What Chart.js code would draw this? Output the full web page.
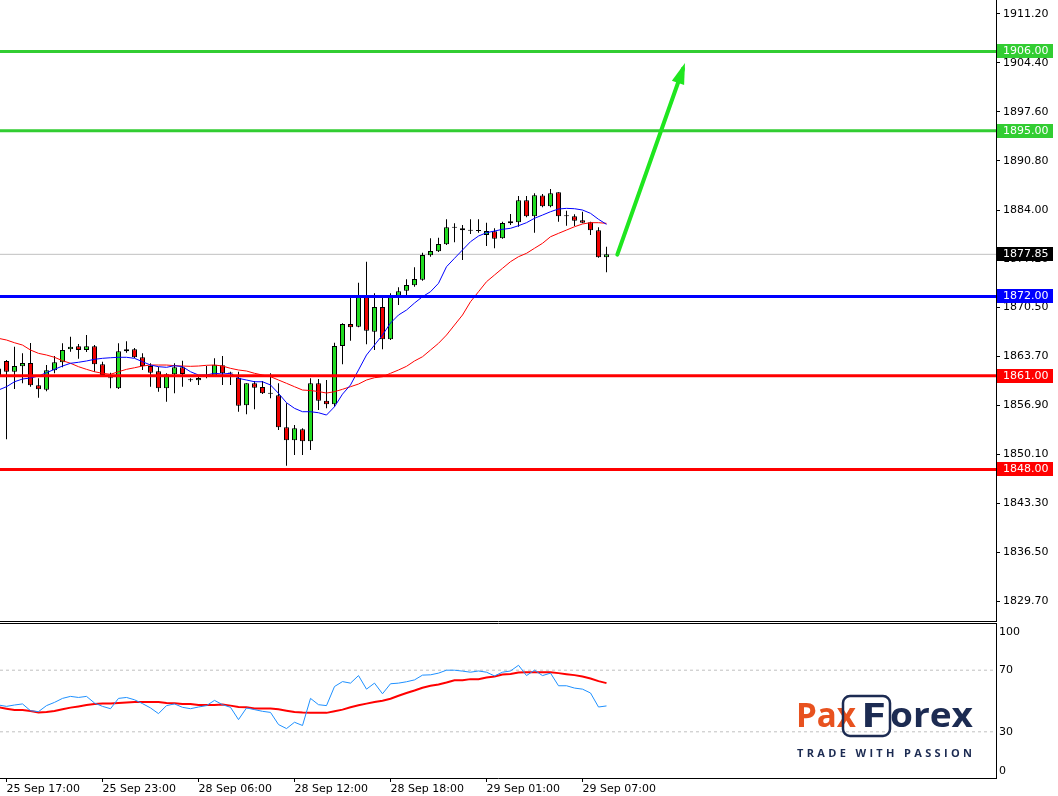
<!DOCTYPE html>
<html>
<head>
<meta charset="utf-8">
<title>Gold M30</title>
<script src="https://cdn.jsdelivr.net/npm/chart.js@4/dist/chart.umd.min.js"></script>
<style>
  html, body { margin: 0; background: #fff; }
  #wrap { position: relative; width: 1058px; height: 796px; overflow: hidden; }
  canvas { position: absolute; left: 0; }
  #main { top: 0; }
  #osc { top: 622px; }
</style>
</head>
<body>
<div id="wrap">
  <canvas id="main" width="1058" height="622"></canvas>
  <canvas id="osc" width="1058" height="174"></canvas>
</div>
<script>
// M30 bars. x is the bar number: 0 = 25 Sep 17:00, bar -1 is cut by the left edge.
const firstBar = -1;
const opens = [1861.00, 1863.05, 1861.56, 1862.31, 1862.77, 1859.67, 1859.06, 1861.75, 1862.87, 1864.67,
  1865.08, 1864.57, 1865.08, 1862.59, 1860.70, 1859.26, 1864.39, 1864.67, 1863.56, 1862.35,
  1861.62, 1859.26, 1861.20, 1862.17, 1860.37, 1860.37, 1860.85, 1860.87, 1862.45, 1861.34,
  1860.73, 1856.90, 1859.95, 1859.44, 1858.56, 1858.29, 1853.85, 1852.04, 1853.57, 1851.90,
  1859.95, 1857.53, 1857.04, 1865.13, 1868.18, 1867.80, 1871.97, 1867.11, 1870.54, 1866.06,
  1871.97, 1872.80, 1873.55, 1874.33, 1877.72, 1878.27, 1879.24, 1881.60, 1881.46, 1881.18,
  1881.13, 1880.53, 1881.04, 1880.07, 1882.15, 1882.29, 1885.35, 1883.13, 1886.00, 1884.52,
  1886.46, 1883.17, 1883.13, 1882.57, 1882.29, 1881.18, 1877.43];
const highs = [1863.18, 1863.20, 1865.03, 1864.11, 1865.54, 1860.64, 1862.49, 1863.74, 1865.50, 1866.42,
  1865.40, 1866.65, 1865.26, 1862.95, 1861.42, 1865.50, 1865.78, 1864.85, 1864.11, 1862.73,
  1862.26, 1861.34, 1862.73, 1863.09, 1860.64, 1861.10, 1862.35, 1863.42, 1863.74, 1861.56,
  1861.56, 1859.95, 1860.27, 1860.27, 1861.34, 1859.95, 1857.18, 1854.17, 1853.71, 1860.64,
  1860.55, 1860.40, 1865.59, 1868.28, 1872.20, 1873.91, 1876.83, 1872.44, 1872.07, 1872.44,
  1873.27, 1874.38, 1876.05, 1878.08, 1880.07, 1880.16, 1882.71, 1882.15, 1881.92, 1882.71,
  1882.71, 1882.24, 1881.46, 1882.38, 1883.45, 1885.95, 1885.95, 1886.32, 1886.22, 1886.92,
  1886.46, 1883.90, 1883.40, 1883.76, 1882.38, 1881.60, 1878.91];
const lows = [1857.40, 1852.18, 1859.16, 1859.95, 1859.48, 1857.95, 1858.84, 1861.34, 1862.17, 1864.33,
  1863.36, 1864.29, 1861.56, 1860.87, 1859.26, 1859.16, 1864.20, 1863.46, 1861.80, 1859.48,
  1858.79, 1857.40, 1858.56, 1859.48, 1860.17, 1859.72, 1860.64, 1860.87, 1859.72, 1859.72,
  1856.01, 1855.65, 1856.34, 1858.46, 1857.87, 1853.47, 1848.52, 1850.00, 1850.00, 1850.70,
  1856.25, 1856.48, 1856.70, 1862.59, 1865.86, 1867.72, 1865.36, 1864.57, 1864.67, 1865.96,
  1870.82, 1872.20, 1873.35, 1874.19, 1877.52, 1878.17, 1879.14, 1879.52, 1877.06, 1880.67,
  1880.85, 1879.00, 1878.69, 1880.02, 1881.92, 1881.68, 1882.99, 1880.85, 1884.38, 1884.38,
  1882.38, 1881.82, 1881.78, 1882.15, 1880.53, 1877.38, 1875.35];
const closes = [1862.00, 1861.56, 1862.35, 1862.77, 1859.67, 1859.12, 1861.75, 1862.87, 1864.57, 1865.03,
  1864.57, 1865.08, 1862.59, 1861.10, 1860.64, 1864.39, 1864.67, 1863.56, 1862.35, 1861.42,
  1859.26, 1861.20, 1862.17, 1861.24, 1860.40, 1860.69, 1860.90, 1862.53, 1861.34, 1861.30,
  1856.84, 1859.95, 1859.34, 1858.56, 1858.50, 1853.85, 1852.04, 1853.71, 1851.90, 1859.95,
  1857.53, 1857.04, 1865.13, 1868.18, 1867.72, 1871.97, 1867.25, 1870.54, 1866.06, 1871.97,
  1872.72, 1873.59, 1874.42, 1877.76, 1878.31, 1879.28, 1881.60, 1881.55, 1881.18, 1881.13,
  1881.10, 1881.08, 1880.02, 1882.20, 1882.43, 1885.35, 1883.13, 1886.04, 1884.52, 1886.32,
  1883.13, 1883.15, 1882.52, 1882.24, 1881.18, 1877.43, 1877.85];

// the two moving averages on the price pane (blue fast, red slow)
const maFast = [1859.02, 1859.48, 1860.17, 1860.55, 1860.69, 1860.96, 1861.42, 1861.89, 1862.35, 1862.73,
  1862.87, 1863.05, 1863.28, 1863.42, 1863.50, 1863.56, 1863.56, 1863.42, 1862.95, 1862.49,
  1862.26, 1862.17, 1862.40, 1862.26, 1861.56, 1861.10, 1861.10, 1861.34, 1861.24, 1861.34,
  1860.64, 1860.41, 1860.17, 1860.17, 1859.72, 1858.56, 1857.26, 1856.48, 1856.01, 1856.01,
  1855.87, 1855.55, 1856.70, 1858.45, 1859.72, 1861.80, 1863.88, 1865.26, 1866.65, 1868.32,
  1869.43, 1870.12, 1871.09, 1871.97, 1872.66, 1873.83, 1876.13, 1877.30, 1878.45, 1879.60,
  1880.39, 1880.85, 1881.08, 1881.32, 1881.46, 1881.82, 1882.24, 1882.85, 1883.30, 1883.76,
  1884.14, 1884.23, 1884.18, 1884.00, 1883.54, 1882.71, 1882.01];
const maSlow = [1866.19, 1865.96, 1865.58, 1865.26, 1864.57, 1864.11, 1863.88, 1863.56, 1863.09, 1862.73,
  1862.26, 1861.89, 1861.56, 1861.34, 1861.20, 1861.56, 1861.89, 1862.11, 1862.35, 1862.49,
  1862.49, 1862.49, 1862.40, 1862.35, 1862.31, 1862.35, 1862.45, 1862.49, 1862.35, 1862.03,
  1861.80, 1861.66, 1861.34, 1861.10, 1860.87, 1860.41, 1859.95, 1859.48, 1859.02, 1858.95,
  1858.81, 1858.60, 1858.79, 1859.12, 1859.48, 1859.85, 1860.41, 1860.73, 1860.87, 1861.34,
  1861.80, 1862.31, 1863.05, 1863.64, 1864.57, 1865.50, 1866.65, 1868.04, 1869.43, 1871.27,
  1872.66, 1874.05, 1874.98, 1875.91, 1876.83, 1877.52, 1877.99, 1878.69, 1879.38, 1880.29,
  1880.76, 1881.22, 1881.68, 1882.06, 1882.24, 1882.24, 1882.15];

// oscillator pane (0..100): blue main line and red signal line
const oscMain = [47.4, 46.5, 47.4, 48.1, 43.7, 43.1, 47.0, 49.1, 51.7, 53.0,
  52.3, 53.0, 48.7, 46.5, 45.0, 51.7, 52.3, 50.8, 48.3, 45.5,
  41.8, 47.0, 48.1, 45.9, 45.0, 46.1, 47.0, 50.4, 47.6, 45.9,
  37.9, 45.5, 44.4, 43.3, 42.6, 34.7, 32.1, 36.2, 34.1, 51.7,
  47.6, 47.0, 59.4, 62.6, 61.6, 66.5, 57.7, 61.6, 54.7, 61.2,
  61.6, 62.5, 63.7, 66.8, 67.0, 68.1, 70.0, 70.0, 69.4, 68.7,
  69.5, 68.7, 66.3, 68.7, 69.5, 73.2, 66.5, 70.0, 66.5, 68.1,
  59.9, 59.9, 58.4, 57.7, 55.2, 46.1, 46.8];
const oscSignal = [45.9, 45.0, 44.2, 44.2, 43.5, 42.5, 42.9, 43.5, 44.6, 45.7,
  46.5, 47.4, 48.1, 48.3, 48.3, 48.7, 49.1, 49.4, 49.4, 49.4,
  49.4, 48.7, 48.5, 48.1, 48.1, 47.4, 47.4, 47.4, 47.8, 47.0,
  46.1, 45.9, 45.2, 45.2, 45.2, 44.6, 43.7, 42.9, 42.5, 42.3,
  42.3, 42.3, 43.3, 44.4, 45.9, 47.2, 48.3, 49.4, 50.2, 51.5,
  53.4, 55.2, 56.8, 58.6, 59.9, 60.7, 62.0, 63.5, 63.5, 64.2,
  64.2, 65.2, 65.9, 67.2, 67.6, 68.5, 68.7, 68.7, 68.7, 68.7,
  68.1, 67.4, 66.8, 65.9, 64.6, 62.9, 61.6];

const priceTicks = [1911.20, 1904.40, 1897.60, 1890.80, 1884.00, 1877.20, 1870.50,
  1863.70, 1856.90, 1850.10, 1843.30, 1836.50, 1829.70];
const timeTickBars = [0, 12, 24, 36, 48, 60, 72];
const timeTickLabels = ['25 Sep 17:00', '25 Sep 23:00', '28 Sep 06:00', '28 Sep 12:00',
  '28 Sep 18:00', '29 Sep 01:00', '29 Sep 07:00'];
const levelPrices = [1906, 1895, 1872, 1861, 1848];
const lastPrice = 1877.85;
const arrowFrom = [76.35, 1877.8]; // [bar, price]
const arrowTo = [84.56, 1903.6];
const oscTicks = [100, 70, 30, 0];
const oscLevels = [70, 30];

// visible window: 8 px per bar, bar 0 sits at x = 6.5
const X_MIN = -0.8125, X_MAX = 123.6875;
const PRICE_MIN = 1826.97, PRICE_MAX = 1913.14;

const levelColors = ['#32cd32', '#32cd32', '#0000ff', '#ff0000', '#ff0000'];
const UP = '#22dd22', DOWN = '#f00000', ARROW = '#1fe61f';
const NAVY = '#1c2b52', ORANGE = '#e8521f';
const AXIS_FONT = '11px "DejaVu Sans"';

Chart.defaults.font.family = '"DejaVu Sans", sans-serif';
Chart.defaults.font.size = 11;
Chart.defaults.color = '#000';

const bars = opens.map((_, k) => firstBar + k);
const series = (values) => values.map((v, k) => ({ x: bars[k], y: v }));
const hline = (y) => [{ x: X_MIN, y }, { x: X_MAX, y }];
const flat = { pointRadius: 0, tension: 0, fill: false };

// Axes keep their full box: no extra room for half-labels at the ends.
const noEdgePadding = (s) => {
  s.paddingTop = 0;
  s.paddingBottom = 0;
  s.paddingLeft = 0;
  s.paddingRight = 0;
};

// Extra drawing on the price pane: arrowhead, bottom frame line, price tags on the axis.
const priceDecor = {
  id: 'priceDecor',
  afterDatasetsDraw(chart) {
    const { ctx, scales: { x, y } } = chart;
    const x0 = x.getPixelForValue(arrowFrom[0]), y0 = y.getPixelForValue(arrowFrom[1]);
    const x1 = x.getPixelForValue(arrowTo[0]), y1 = y.getPixelForValue(arrowTo[1]);
    const len = Math.hypot(x1 - x0, y1 - y0);
    const ux = (x1 - x0) / len, uy = (y1 - y0) / len;
    const tipX = x1 + ux * 6, tipY = y1 + uy * 6;
    const bx = tipX - ux * 21, by = tipY - uy * 21;
    ctx.save();
    ctx.fillStyle = ARROW;
    ctx.beginPath();
    ctx.moveTo(tipX, tipY);
    ctx.lineTo(bx - uy * 6.5, by + ux * 6.5);
    ctx.lineTo(bx + uy * 6.5, by - ux * 6.5);
    ctx.closePath();
    ctx.fill();
    ctx.restore();
  },
  afterDraw(chart) {
    const { ctx, chartArea: a, scales: { y } } = chart;
    ctx.save();
    ctx.strokeStyle = '#000';
    ctx.lineWidth = 1;
    ctx.beginPath();
    ctx.moveTo(0, a.bottom + 0.5);
    ctx.lineTo(a.right + 1, a.bottom + 0.5);
    ctx.stroke();
    ctx.font = AXIS_FONT;
    ctx.textAlign = 'left';
    ctx.textBaseline = 'middle';
    const tag = (price, bg) => {
      const py = Math.round(y.getPixelForValue(price));
      ctx.fillStyle = bg;
      ctx.fillRect(a.right + 1, py - 7, 56, 14);
      ctx.fillStyle = '#fff';
      ctx.fillText(price.toFixed(2), a.right + 7, py + 0.5);
    };
    levelPrices.forEach((p, k) => tag(p, levelColors[k]));
    tag(lastPrice, '#000');
    ctx.restore();
  },
};

new Chart(document.getElementById('main'), {
  type: 'bar',
  data: {
    datasets: [
      { type: 'line', data: [{ x: arrowFrom[0], y: arrowFrom[1] }, { x: arrowTo[0], y: arrowTo[1] }],
        borderColor: ARROW, borderWidth: 4, borderCapStyle: 'round', ...flat, order: 0 },
      ...levelPrices.map((p, k) => ({ type: 'line', data: hline(p), borderColor: levelColors[k],
        borderWidth: 3, ...flat, order: 1 })),
      { type: 'line', data: series(maFast), borderColor: '#0000ff', borderWidth: 1, ...flat, order: 2 },
      { type: 'line', data: series(maSlow), borderColor: '#ff0000', borderWidth: 1, ...flat, order: 3 },
      // bodies and wicks share one stack name so they sit on the same x
      { type: 'bar', data: bars.map((x, k) => ({ x, y: [opens[k], closes[k]] })),
        backgroundColor: bars.map((_, k) => (closes[k] >= opens[k] ? UP : DOWN)),
        borderColor: '#000', borderWidth: 1, borderSkipped: false, inflateAmount: 0,
        barThickness: 5, minBarLength: 1, stack: 'candle', order: 4 },
      { type: 'bar', data: bars.map((x, k) => ({ x, y: [lows[k], highs[k]] })),
        backgroundColor: '#000', borderWidth: 0, inflateAmount: 0,
        barThickness: 1, stack: 'candle', order: 5 },
      { type: 'line', data: hline(lastPrice), borderColor: '#c0c0c0', borderWidth: 1, ...flat, order: 6 },
    ],
  },
  options: {
    responsive: false,
    animation: false,
    devicePixelRatio: 1,
    layout: { padding: { top: 0, right: 0, bottom: 1, left: 0 } },
    plugins: { legend: { display: false }, tooltip: { enabled: false } },
    scales: {
      x: { type: 'linear', min: X_MIN, max: X_MAX, offset: false, display: false },
      y: {
        position: 'right', min: PRICE_MIN, max: PRICE_MAX, stacked: false,
        afterFit: (s) => { s.width = 62; noEdgePadding(s); },
        afterBuildTicks: (s) => { s.ticks = priceTicks.map((v) => ({ value: v })); },
        ticks: { callback: (v) => Number(v).toFixed(2), padding: 3, color: '#000' },
        grid: { drawOnChartArea: false, drawTicks: true, tickLength: 4, tickColor: '#000' },
        border: { display: true, color: '#000' },
      },
    },
  },
  plugins: [priceDecor],
});

// fit a text run into a given width (logo lettering)
function fitText(ctx, text, x, baseline, width) {
  const w = ctx.measureText(text).width;
  ctx.save();
  ctx.translate(x, baseline);
  ctx.scale(width / w, 1);
  ctx.fillText(text, 0, 0);
  ctx.restore();
}
function spacedText(ctx, text, x, baseline, width) {
  const chars = [...text];
  const widths = chars.map((c) => ctx.measureText(c).width);
  const gap = (width - widths.reduce((s, w) => s + w, 0)) / (chars.length - 1);
  let cx = x;
  chars.forEach((c, k) => { ctx.fillText(c, cx, baseline); cx += widths[k] + gap; });
}

// Oscillator pane extras: top frame line, clamped axis labels, PaxForex logo.
const oscDecor = {
  id: 'oscDecor',
  afterDraw(chart) {
    const { ctx, chartArea: a, scales: { y } } = chart;
    ctx.save();
    ctx.strokeStyle = '#000';
    ctx.lineWidth = 1;
    ctx.beginPath();
    ctx.moveTo(0, a.top - 0.5);
    ctx.lineTo(a.right + 1, a.top - 0.5);
    ctx.stroke();

    ctx.font = AXIS_FONT;
    ctx.fillStyle = '#000';
    ctx.textAlign = 'left';
    ctx.textBaseline = 'middle';
    for (const v of oscTicks) {
      const py = Math.min(Math.max(y.getPixelForValue(v), a.top + 8), a.bottom - 7);
      ctx.fillText(String(v), a.right + 3, py);
    }

    // logo (canvas top is at page y 622)
    ctx.textAlign = 'left';
    ctx.textBaseline = 'alphabetic';
    ctx.font = 'bold 34px "Open Sans"';
    ctx.fillStyle = ORANGE;
    fitText(ctx, 'Pax', 796, 105, 60);
    ctx.strokeStyle = NAVY;
    ctx.lineWidth = 2.5;
    ctx.beginPath();
    ctx.roundRect(843, 74, 47, 40, 7);
    ctx.stroke();
    ctx.fillStyle = NAVY;
    fitText(ctx, 'F', 861, 105, 25);
    fitText(ctx, 'orex', 890, 105, 83);
    ctx.font = 'bold 11px "Open Sans"';
    spacedText(ctx, 'TRADE WITH PASSION', 797, 135, 175);
    ctx.restore();
  },
};

new Chart(document.getElementById('osc'), {
  type: 'line',
  data: {
    datasets: [
      { data: series(oscMain), borderColor: '#1e90ff', borderWidth: 1, ...flat, order: 0 },
      { data: series(oscSignal), borderColor: '#ff0000', borderWidth: 2, ...flat, order: 1 },
      ...oscLevels.map((v) => ({ data: hline(v), borderColor: '#c0c0c0', borderWidth: 1,
        borderDash: [3, 3], ...flat, order: 2 })),
    ],
  },
  options: {
    responsive: false,
    animation: false,
    devicePixelRatio: 1,
    layout: { padding: { top: 2, right: 0, bottom: 0, left: 0 } },
    plugins: { legend: { display: false }, tooltip: { enabled: false } },
    scales: {
      x: {
        type: 'linear', min: X_MIN, max: X_MAX, offset: false,
        afterFit: (s) => { s.height = 18; noEdgePadding(s); },
        afterBuildTicks: (s) => { s.ticks = timeTickBars.map((v) => ({ value: v })); },
        ticks: {
          callback: (v) => timeTickLabels[timeTickBars.indexOf(v)],
          align: 'start', maxRotation: 0, minRotation: 0, autoSkip: false, padding: 1, color: '#000',
        },
        grid: { drawOnChartArea: false, drawTicks: true, tickLength: 4, tickColor: '#000' },
        border: { display: true, color: '#000' },
      },
      y: {
        position: 'right', min: 0, max: 100,
        afterFit: (s) => { s.width = 62; noEdgePadding(s); },
        ticks: { display: false },
        grid: { display: false },
        border: { display: true, color: '#000' },
      },
    },
  },
  plugins: [oscDecor],
});
</script>
</body>
</html>
